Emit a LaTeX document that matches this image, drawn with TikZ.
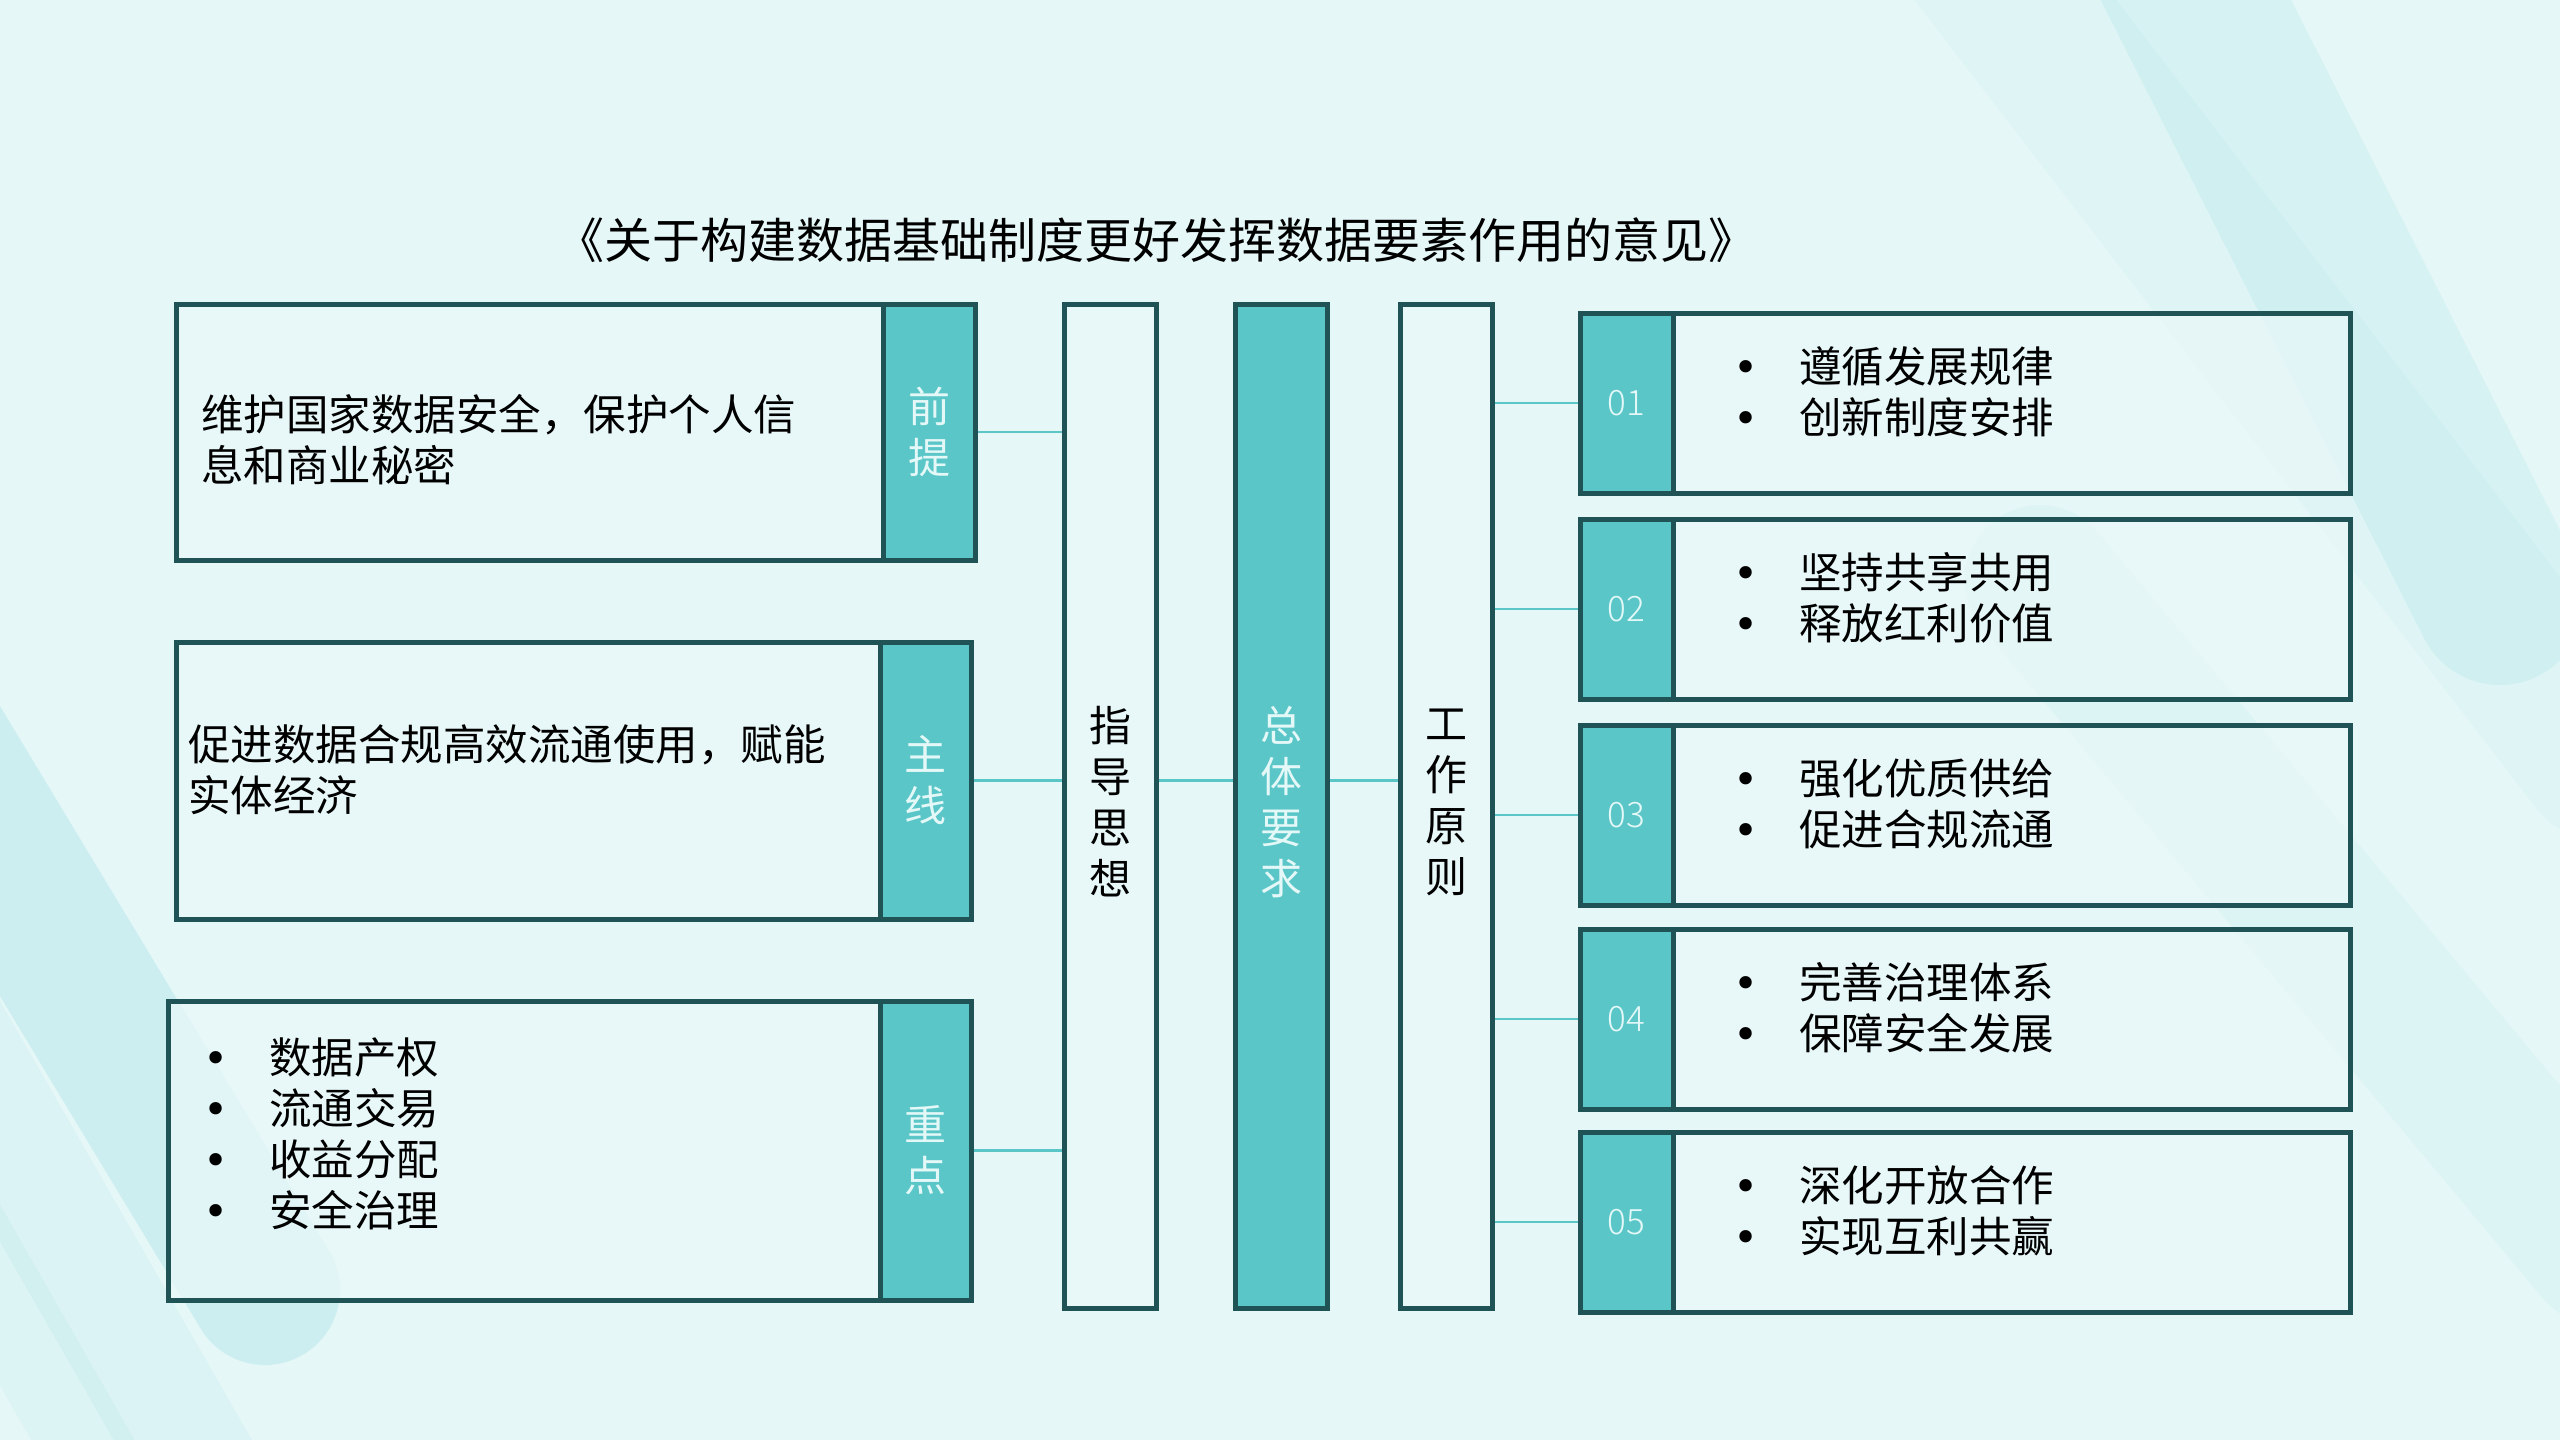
\documentclass[tikz,border=0pt]{standalone}
\usepackage{fontspec}
\setmainfont{Noto Sans CJK SC}
\newfontfamily\numfont{Noto Sans CJK SC Light}
\newfontfamily\dejavu{DejaVu Sans}
\newcommand{\bul}[1]{\makebox[#1][l]{\dejavu •}}
\definecolor{bg}{HTML}{E6F7F8}
\definecolor{boxfill}{HTML}{E9F8F9}
\definecolor{tealc}{HTML}{5BC6C8}
\definecolor{darkb}{HTML}{1F5356}
\definecolor{lighttxt}{HTML}{E4F8F8}
\definecolor{decor}{HTML}{5CC8CC}
\begin{document}
\begin{tikzpicture}[x=1pt,y=-1pt,
  wbox/.style={draw=darkb, line width=5pt, fill=boxfill, fill opacity=0.75, text opacity=1, rectangle, inner sep=0pt},
  tbox/.style={draw=darkb, line width=5pt, fill=tealc, rectangle, inner sep=0pt},
  conn/.style={draw=tealc, line width=2.5pt},
  body/.style={font=\fontsize{42.5}{51}\selectfont, text=black, inner sep=0pt, align=left, anchor=west},
  vlab/.style={font=\fontsize{42}{51}\selectfont, inner sep=0pt, align=center},
  numlab/.style={font=\numfont\fontsize{35}{40}\selectfont, text=lighttxt, inner sep=0pt},
  band/.style={draw=decor, line cap=round}
]
\useasboundingbox (0,0) rectangle (2560,1440);
\fill[bg] (0,0) rectangle (2560,1440);
% background decoration
\draw[band, line width=150pt, opacity=0.18] (-200,520) -- (265,1290);
\draw[band, line width=120pt, opacity=0.08] (-150,860) -- (200,1470);
\draw[band, line width=90pt, opacity=0.06] (-100,1120) -- (100,1470);
\draw[band, line width=170pt, opacity=0.10] (2120,-150) -- (2500,600);
\draw[band, line width=160pt, opacity=0.05] (1900,-150) -- (2600,760);
\draw[band, line width=150pt, opacity=0.06] (2040,580) -- (2600,1250);

% title
\node[font=\fontsize{48}{52}\selectfont, inner sep=0pt] (title) at (1156,240) {《关于构建数据基础制度更好发挥数据要素作用的意见》};

% left boxes
\node[wbox, minimum width=707pt, minimum height=256pt] (l1) at (529.5,432) {};
\node[tbox, minimum width=92pt, minimum height=256pt] (l1s) at (929,432) {};
\node[vlab, text=lighttxt] (l1t) at (l1s.center) {前\\提};
\node[body] (l1b) at (201,440) {维护国家数据安全，保护个人信\\息和商业秘密};

\node[wbox, minimum width=704pt, minimum height=277pt] (l2) at (528,780.5) {};
\node[tbox, minimum width=91pt, minimum height=277pt] (l2s) at (925.5,780.5) {};
\node[vlab, text=lighttxt] (l2t) at (l2s.center) {主\\线};
\node[body] (l2b) at (188,770) {促进数据合规高效流通使用，赋能\\实体经济};

\node[wbox, minimum width=712pt, minimum height=299pt] (l3) at (524,1150.5) {};
\node[tbox, minimum width=91pt, minimum height=299pt] (l3s) at (925.5,1150.5) {};
\node[vlab, text=lighttxt] (l3t) at (l3s.center) {重\\点};
\node[body] (l3b) at (203,1134) {\bul{66pt}数据产权\\\bul{66pt}流通交易\\\bul{66pt}收益分配\\\bul{66pt}安全治理};

% middle columns
\node[wbox, minimum width=92pt, minimum height=1004pt] (zd) at (1110,806) {};
\node[vlab, text=black] (zdt) at (1110,802) {指\\导\\思\\想};
\node[tbox, minimum width=92pt, minimum height=1004pt] (zt) at (1281.5,806) {};
\node[vlab, text=lighttxt] (ztt) at (1281.5,802) {总\\体\\要\\求};
\node[wbox, minimum width=92pt, minimum height=1004pt] (gz) at (1446.5,806) {};
\node[vlab, text=black] (gzt) at (1446.5,802) {工\\作\\原\\则};

% right boxes
\foreach \i/\y/\a/\b in {1/403/遵循发展规律/创新制度安排, 2/609/坚持共享共用/释放红利价值, 3/815/强化优质供给/促进合规流通, 4/1019/完善治理体系/保障安全发展, 5/1222/深化开放合作/实现互利共赢}{
  \node[wbox, minimum width=677pt, minimum height=180pt] (r\i) at (2011.5,\y) {};
  \node[tbox, minimum width=93pt, minimum height=180pt] (r\i n) at (1626.5,\y) {};
  \node[numlab] (r\i t) at (r\i n.center) {0\i};
  \node[body] (r\i b) at (1733,\y-11) {\bul{66pt}\a\\\bul{66pt}\b};
}

% connectors
\draw[conn] (l1s.east) -- (l1s.east -| zd.west);
\draw[conn] (l2s.east) -- (l2s.east -| zd.west);
\draw[conn] (l3s.east) -- (l3s.east -| zd.west);
\draw[conn] (zd.east |- l2s.east) -- (zt.west |- l2s.east);
\draw[conn] (zt.east |- l2s.east) -- (gz.west |- l2s.east);
\foreach \i in {1,...,5}{
  \draw[conn] (r\i n.west -| gz.east) -- (r\i n.west);
}
\end{tikzpicture}
\end{document}
